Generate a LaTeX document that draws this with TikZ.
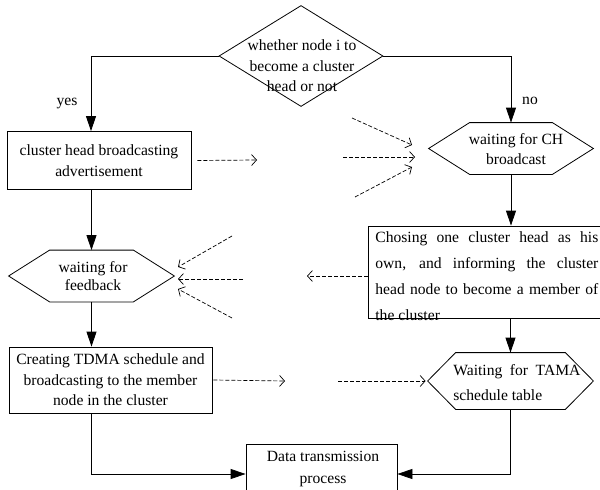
\documentclass[tikz,border=0pt]{standalone}
\usepackage{fontspec}
\setmainfont{Liberation Serif}
\usetikzlibrary{arrows.meta,shapes.geometric}
% hexagonal outline around a (rectangular, undrawn) node
\newcommand\hexoutline[2]{\draw (#1.west) -- ([xshift=#2]#1.north west) -- ([xshift=-#2]#1.north east) -- (#1.east) -- ([xshift=-#2]#1.south east) -- ([xshift=#2]#1.south west) -- cycle;}
\begin{document}
\begin{tikzpicture}[x=1pt,y=-1pt,
  font=\fontsize{15.6}{20.5}\selectfont,
  line width=0.8pt,
  flow/.style={-{Triangle[length=15pt,width=10pt]}},
  hint/.style={line width=0.7pt, dash pattern=on 4pt off 2pt, -{Straight Barb[length=5pt,width=11pt]}},
  box/.style={draw, rectangle, inner sep=0pt, align=center},
  frame/.style={rectangle, inner sep=0pt},
  plain/.style={inner sep=0pt, align=center}]
\useasboundingbox (0,0) rectangle (600,490);
\clip (0,0) rectangle (600,490);

% decision
\node[draw, diamond, minimum width=164pt, minimum height=101pt, inner sep=0pt] (dec) at (301,56) {};
\node[plain] (dectxt) at (302,66) {whether node i to\\become a cluster\\head or not};

% left column
\node[box, minimum width=184pt, minimum height=58pt] (b1) at (99,160.5) {cluster head broadcasting\\advertisement};
\node[frame, minimum width=165pt, minimum height=51pt] (fb) at (91.5,276) {};
\hexoutline{fb}{41pt}
\node[plain, font=\fontsize{15.6}{18.5}\selectfont] (fbtxt) at (93,276) {waiting for\\feedback};
\node[box, minimum width=203pt, minimum height=66pt] (b3) at (110.5,380) {Creating TDMA schedule and\\broadcasting to the member\\node in the cluster};

% right column
\node[frame, minimum width=164pt, minimum height=51pt] (ch) at (511,148.5) {};
\hexoutline{ch}{41pt}
\node[plain, font=\fontsize{15.6}{20}\selectfont] (chtxt) at (516,149) {waiting for CH\\broadcast};
\node[draw, frame, minimum width=240pt, minimum height=92pt] (b2) at (488,272) {};
\node[inner sep=0pt, anchor=north west, text width=223pt, align=justify, font=\fontsize{15.6}{26}\selectfont] (b2txt) at (375,231)
  {Chosing one cluster head as his\linebreak own, and informing the cluster\linebreak head node to become a member of\linebreak the cluster};
\node[frame, minimum width=165pt, minimum height=56pt] (tama) at (510.5,381) {};
\hexoutline{tama}{28pt}
\node[inner sep=0pt, anchor=north west, text width=127pt, align=justify, font=\fontsize{15.6}{25}\selectfont] (tamatxt) at (453,364)
  {Waiting for TAMA\linebreak schedule table};

% final step
\node[draw, frame, minimum width=151pt, minimum height=60pt] (data) at (321.5,474) {};
\node[plain, font=\fontsize{15.6}{22}\selectfont] (datatxt) at (323,469) {Data transmission\\process};

% branch labels
\node[plain] (yes) at (67,104) {yes};
\node[plain] (no) at (530,101) {no};

% main flow
\draw[flow] (dec.west) -| ([xshift=-8pt]b1.north);
\draw[flow] (dec.east) -| (ch.north);
\draw[flow] (fb.north |- b1.south) -- (fb.north);
\draw[flow] (fb.south) -- (fb.south |- b3.north);
\draw[flow] (b3.south -| fb.south) |- (data.west);
\draw[flow] (ch.south) -- (ch.south |- b2.north);
\draw[flow] (tama.north |- b2.south) -- (tama.north);
\draw[flow] (tama.south) |- (data.east);

% message hints (dashed)
\coordinate (p1) at (257,160);
\draw[hint] ([xshift=6pt]b1.east) -- (p1);
\coordinate (q1) at (352,118); \coordinate (q1e) at (412,145);
\coordinate (q2) at (343,157); \coordinate (q2e) at (415,157);
\coordinate (q3) at (355,197); \coordinate (q3e) at (412,167);
\draw[hint] (q1) -- (q1e);
\draw[hint] (q2) -- (q2e);
\draw[hint] (q3) -- (q3e);
\coordinate (r1) at (307,276);
\draw[hint] ([yshift=-4pt]b2.west) -- (r1);
\coordinate (s1) at (232,236); \coordinate (s1e) at (178,267);
\coordinate (s2) at (243,279); \coordinate (s2e) at (178,279);
\coordinate (s3) at (232,318); \coordinate (s3e) at (178,289);
\draw[hint] (s1) -- (s1e);
\draw[hint] (s2) -- (s2e);
\draw[hint] (s3) -- (s3e);
\coordinate (t1) at (285,381);
\draw[hint] ([xshift=1pt]b3.east) -- (t1);
\coordinate (u1) at (338,381);
\draw[hint, shorten >=2pt] (u1) -- (tama.west);
\end{tikzpicture}
\end{document}
